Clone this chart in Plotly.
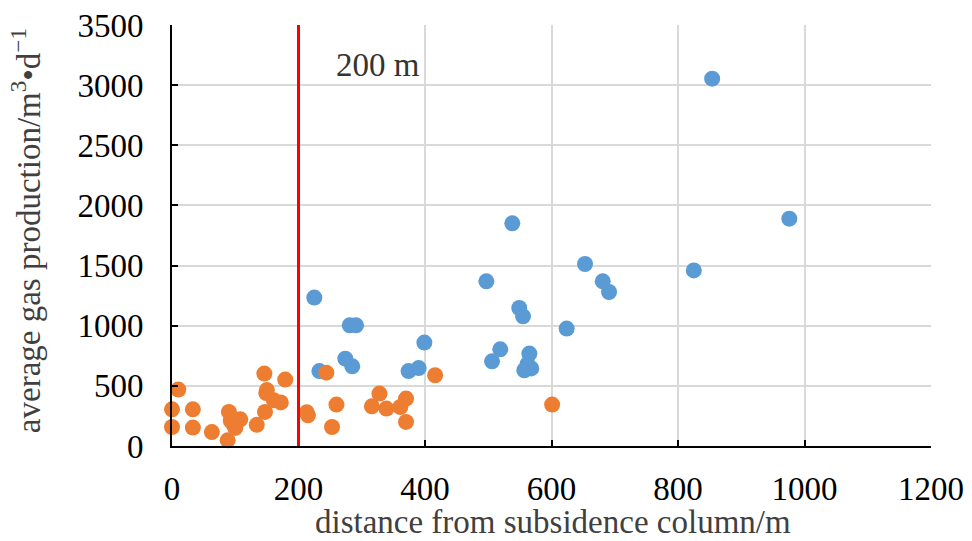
import plotly.graph_objects as go

# Wells beyond / within the subsidence influence radius
far_distance = [225, 233, 281, 291, 274, 285, 374, 390, 399, 538, 497, 653, 681, 691,
                549, 555, 624, 519, 506, 565, 557, 562, 568, 854, 976, 825]
far_production = [1234, 623, 1003, 1003, 726, 662, 623, 648, 860, 1851, 1369, 1513, 1369, 1280,
                  1147, 1078, 976, 804, 704, 768, 630, 680, 645, 3054, 1890, 1460]

near_distance = [0, 0, 10, 33, 33, 63, 88, 90, 93, 100, 108, 97, 134, 146, 147, 149, 150,
                 161, 172, 179, 213, 215, 244, 253, 260, 316, 328, 339, 361, 370, 370, 416, 601]
near_production = [305, 158, 469, 305, 153, 116, 47, 283, 210, 150, 222, 180, 176, 602, 283, 440, 465,
                   380, 362, 552, 280, 255, 610, 158, 344, 330, 436, 311, 324, 394, 200, 588, 344]

x_ticks = [0, 200, 400, 600, 800, 1000, 1200]
y_ticks = [0, 500, 1000, 1500, 2000, 2500, 3000, 3500]
threshold = 200

x_title = "distance from subsidence column/m"
y_title = "average gas production/m<sup>3</sup>•d<sup>−1</sup>"

FONT = "Liberation Serif"
TICK_FONT = dict(family=FONT, size=33, color="#000000")
TITLE_FONT = dict(family=FONT, size=33, color="#404040")

fig = go.Figure()
fig.add_trace(go.Scatter(x=far_distance, y=far_production, mode="markers",
                         marker=dict(size=16, color="#5B9BD5"), cliponaxis=False))
fig.add_trace(go.Scatter(x=near_distance, y=near_production, mode="markers",
                         marker=dict(size=16, color="#ED7D31"), cliponaxis=False))

fig.add_shape(type="line", x0=threshold, x1=threshold, y0=0, y1=3500,
              xref="x", yref="y", line=dict(color="#FF0000", width=3))
fig.add_annotation(x=325, y=3165, text=f"{threshold} m", showarrow=False,
                   font=dict(family=FONT, size=33, color="#333333"))

# Axis titles placed in paper coordinates so they sit clear of the tick labels
fig.add_annotation(xref="paper", yref="paper", x=0.502, y=-0.18, text=x_title,
                   showarrow=False, xanchor="center", yanchor="middle", font=TITLE_FONT)
fig.add_annotation(xref="paper", yref="paper", x=-0.192, y=0.511, text=y_title,
                   showarrow=False, textangle=-90, xanchor="center", yanchor="middle",
                   font=TITLE_FONT)

axis_style = dict(
    tickmode="array", tickfont=TICK_FONT, automargin=False,
    showgrid=True, gridcolor="#D9D9D9", gridwidth=1.5,
    zeroline=False, showline=True, linecolor="#000000", linewidth=2,
    ticks="inside", ticklen=6, tickwidth=2, tickcolor="#000000",
)

fig.update_layout(
    width=972, height=541,
    margin=dict(l=172, r=41, t=25, b=95),
    plot_bgcolor="white", paper_bgcolor="white",
    font=dict(family=FONT, size=33, color="#000000"),
    showlegend=False,
    xaxis=dict(range=[0, 1200], tickvals=x_ticks, ticklabelstandoff=12, **axis_style),
    yaxis=dict(range=[0, 3500], tickvals=y_ticks, ticklabelstandoff=20, **axis_style),
)

fig.write_html("out.html")
